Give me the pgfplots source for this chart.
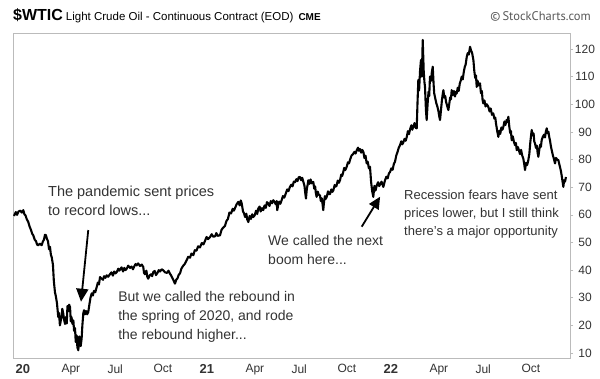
\documentclass[border=0pt]{standalone}
\usepackage{pgfplots}
\pgfplotsset{compat=1.18}
\usepackage{fontspec}
\setmainfont{Liberation Sans}
\newfontfamily\scfont{PT Sans}
\usetikzlibrary{arrows.meta}
\definecolor{txt}{HTML}{333333}
\definecolor{frame}{HTML}{BBBBBB}
\begin{document}
\begin{tikzpicture}
\path[fill=white] (0pt,0pt) rectangle (600pt,377pt);
\begin{axis}[
  at={(13pt,19pt)}, anchor=south west,
  scale only axis, width=557pt, height=325pt,
  xmin=0, xmax=3.027, ymin=8.2, ymax=125.79,
  axis line style={draw=frame, line width=0.8pt},
  ytick={10,20,...,120},
  yticklabel pos=right, ytick pos=right,
  tick align=outside, major tick length=3pt,
  ytick style={draw=frame, line width=0.6pt},
  xtick style={draw=none},
  xtick={0,0.25,0.5,0.75,1,1.25,1.5,1.75,2,2.25,2.5,2.75},
  xticklabels={{\fontsize{13}{13}\selectfont\textbf{20}},Apr,Jul,Oct,{\fontsize{13}{13}\selectfont\textbf{21}},Apr,Jul,Oct,{\fontsize{13}{13}\selectfont\textbf{22}},Apr,Jul,Oct},
  xticklabel style={anchor=north west, xshift=-1pt, font=\fontsize{12}{12}\selectfont, text=txt},
  yticklabel style={anchor=center, xshift=12pt, font=\fontsize{12}{12}\selectfont, text=txt},
  /pgf/number format/assume math mode=true,
  clip=false,
]
\addplot[black, line width=2.1pt, line join=round] table {
t v
0.0054 59.6
0.015 61.0
0.022 60.0
0.030 61.2
0.040 61.5
0.048 60.8
0.056 61.7
0.062 60.2
0.068 59.8
0.075 58.4
0.083 57.4
0.090 55.8
0.098 54.5
0.104 53.2
0.110 52.6
0.118 51.0
0.125 50.5
0.131 49.2
0.1375 49
0.146 49.6
0.156 49
0.162 50.3
0.168 51
0.174 52.8
0.179 52.6
0.185 51.2
0.190 50.5
0.196 47.5
0.201 48.4
0.206 45.5
0.210 44.8
0.217 42
0.222 36
0.228 32
0.233 30.5
0.239 28
0.246 23
0.250 24.5
0.255 20
0.259 21.5
0.264 23
0.268 26
0.273 24.3
0.278 22
0.283 20.5
0.287 23
0.292 20.7
0.296 27
0.299 25
0.305 27.5
0.310 26.6
0.314 21.5
0.318 23
0.323 20.5
0.328 21.8
0.332 18
0.337 19
0.341 14
0.346 16.4
0.350 12
0.355 11
0.360 16
0.364 13.5
0.368 12.5
0.373 15.3
0.377 20
0.382 24.3
0.386 25.5
0.391 24
0.397 25.2
0.403 24
0.409 24.8
0.415 27.5
0.421 30
0.428 31.6
0.434 30.8
0.440 32.5
0.447 32
0.455 33.9
0.461 35.5
0.467 34.8
0.473 37.5
0.480 37
0.489 36.5
0.495 37.8
0.502 37.2
0.509 38.1
0.517 37.6
0.527 38.5
0.535 39.2
0.543 38
0.550 39.5
0.557 38.8
0.564 39.3
0.572 40.5
0.578 39.8
0.582 40.2
0.590 41
0.598 39.5
0.605 40.8
0.611 40
0.618 40.5
0.626 41.6
0.636 40.8
0.644 41.3
0.652 40.3
0.660 41.5
0.666 42.2
0.672 41.7
0.680 42.4
0.690 41.5
0.700 42
0.708 41.1
0.712 39
0.717 38.5
0.725 39.8
0.730 37.5
0.735 36.9
0.742 38
0.750 38.5
0.756 37.8
0.7625 39.3
0.770 39.7
0.777 38.2
0.785 39
0.792 40
0.799 39.5
0.808 40.3
0.817 39.9
0.826 39.2
0.837 39
0.845 39.8
0.853 38.7
0.860 38
0.867 37
0.873 36.2
0.880 35.1
0.887 36.5
0.894 37
0.900 38.2
0.908 38.9
0.915 40.5
0.924 41.5
0.933 42.2
0.944 43.6
0.952 44.8
0.962 44.5
0.970 46
0.980 45.4
0.988 47.2
0.997 47
1.006 48.6
1.016 48.2
1.026 49.8
1.035 49.3
1.043 50.5
1.052 52
1.060 51.2
1.071 52
1.080 53
1.088 52.1
1.098 52.2
1.105 53.4
1.112 52.4
1.125 52.6
1.133 54.5
1.140 55.2
1.152 56
1.160 57.8
1.168 58.5
1.176 60.8
1.185 60.5
1.194 62.2
1.200 61.5
1.207 62.5
1.215 63.8
1.2245 64.7
1.232 63.4
1.238 65.2
1.243 64.1
1.250 61.2
1.256 60.5
1.261 59.2
1.268 60.4
1.273 58.3
1.279 57.4
1.286 59.6
1.293 58.5
1.300 60.2
1.306 59.2
1.313 59.8
1.321 61.5
1.327 60.3
1.333 62.3
1.340 63
1.346 61.2
1.353 62.4
1.360 61.7
1.367 63.4
1.374 62.5
1.380 64.6
1.3875 64.1
1.394 63.2
1.401 65
1.408 64.2
1.4147 65.3
1.422 64.6
1.428 63.8
1.433 65
1.436 61.7
1.441 63.5
1.447 64.8
1.453 64
1.460 65.3
1.467 66.8
1.474 66.2
1.484 68
1.490 69.2
1.497 68.6
1.505 70.1
1.512 70.9
1.519 70.3
1.526 72
1.533 71.8
1.540 72.9
1.546 72.2
1.553 73.6
1.560 73.7
1.566 72.5
1.572 73.4
1.578 71.9
1.584 70.5
1.588 68
1.592 65.9
1.597 69.5
1.601 70.8
1.605 72.5
1.611 71.2
1.617 72.8
1.624 71.4
1.632 71.9
1.637 69.5
1.642 70.3
1.646 67.8
1.650 66.5
1.656 68.4
1.662 67.2
1.668 67.1
1.673 65
1.678 66
1.682 64
1.686 61.7
1.690 64.5
1.695 66.8
1.700 65.8
1.705 66.5
1.712 68.5
1.717 67.5
1.723 67.5
1.730 69.2
1.736 68.3
1.741 68.9
1.748 70.8
1.753 70.2
1.758 70.5
1.765 72.4
1.771 71.6
1.777 72.5
1.784 74.6
1.789 74.1
1.793 75
1.800 77
1.806 76.2
1.8136 77.4
1.820 79
1.826 78.6
1.832 80
1.840 81.5
1.848 82
1.856 82.8
1.862 82.2
1.868 83.4
1.875 84.3
1.880 83.2
1.886 83.8
1.892 82.5
1.898 83.5
1.904 82.8
1.910 80.5
1.916 81.4
1.922 78.6
1.928 79.2
1.934 76.8
1.940 77.4
1.946 72
1.952 68.5
1.958 66.5
1.964 70.5
1.970 68.8
1.977 70.7
1.984 71.8
1.990 70.4
1.995 71
2.003 72
2.0125 70.1
2.0217 72.5
2.029 73.8
2.036 73.2
2.043 75
2.049 75.5
2.056 76.8
2.063 76.3
2.070 78.5
2.076 79.2
2.083 81.5
2.090 82.8
2.096 84.2
2.103 85.2
2.110 86.6
2.115 85.5
2.120 86
2.128 87.5
2.134 86.8
2.140 88.2
2.146 90.3
2.152 89.2
2.158 91
2.165 92.4
2.170 90.8
2.1755 91.9
2.182 93.2
2.188 91.5
2.194 91.3
2.198 100
2.2027 108.8
2.207 105
2.212 112
2.217 116
2.222 110
2.2266 123.3
2.232 112
2.236 108
2.239 106.3
2.244 98
2.248 94.3
2.253 100
2.258 104.5
2.262 103
2.266 110
2.272 108.5
2.276 111.5
2.281 113.6
2.286 107
2.289 104
2.293 102.7
2.300 100.5
2.307 99
2.312 97.5
2.316 95.8
2.3207 94.3
2.326 98
2.331 101.5
2.335 103.5
2.339 105.1
2.344 102.4
2.349 103
2.353 101
2.359 99.5
2.366 97.9
2.371 100.2
2.376 102.5
2.380 101.8
2.384 105.1
2.390 103.3
2.396 104.8
2.402 102.8
2.406 104.5
2.411 103.9
2.417 106
2.422 104.8
2.428 107.5
2.433 108.5
2.4386 110
2.444 109
2.450 111.8
2.455 113.5
2.460 114.4
2.466 117.2
2.471 118.5
2.477 118
2.484 120.8
2.489 119.5
2.495 118.6
2.502 116
2.507 112
2.512 109.5
2.516 110.4
2.520 106.3
2.525 108.5
2.530 106.8
2.538 107.6
2.543 104
2.548 104.8
2.552 101.5
2.556 100.3
2.562 101.4
2.568 99.2
2.575 100
2.583 99.1
2.590 97.4
2.596 98.5
2.603 96.2
2.610 96.7
2.616 94.8
2.621 95.2
2.625 93
2.631 90.5
2.6375 88.2
2.643 90.4
2.648 89.3
2.654 91.6
2.660 90.8
2.665 91.9
2.671 93.8
2.676 92.5
2.683 94.4
2.688 93.6
2.692 95.5
2.697 92
2.702 89.6
2.706 90.3
2.710 87
2.716 88.4
2.722 86.5
2.728 85.2
2.733 86
2.7375 83.4
2.744 84.5
2.750 83.2
2.755 82
2.761 83.5
2.767 81.5
2.773 80.4
2.778 78.5
2.7826 76.2
2.788 78.8
2.794 78
2.8005 79.8
2.806 82
2.811 86
2.815 88.5
2.819 90.7
2.824 88.8
2.829 89.5
2.833 86.5
2.837 85.8
2.842 84.2
2.847 85
2.851 82.5
2.855 81
2.860 83.5
2.865 85.4
2.869 84.6
2.873 87
2.879 88.2
2.886 89
2.891 88
2.896 90.2
2.9005 91.3
2.905 89.5
2.910 90
2.914 88.2
2.918 87
2.924 84.5
2.929 83
2.934 81.5
2.939 80.4
2.9457 78.6
2.951 80.6
2.957 80
2.9636 79.8
2.970 78
2.9766 76.2
2.981 74.5
2.986 72.3
2.9908 70.1
2.995 72.5
3.000 72
3.005 73.7
};
\node[anchor=west, align=left, inner sep=0, text=txt, font=\fontsize{14.5}{19.5}\selectfont] at (axis cs:0.190,65.0) {The pandemic sent prices\\to record lows...};
\node[anchor=west, align=left, inner sep=0, text=txt, font=\fontsize{14}{19}\selectfont] at (axis cs:0.571,23.0) {But we called the rebound in\\the spring of 2020, and rode\\the rebound higher...};
\node[anchor=west, align=left, inner sep=0, text=txt, font=\fontsize{14}{19}\selectfont] at (axis cs:1.386,47.45) {We called the next\\boom here...};
\node[anchor=west, align=left, inner sep=0, text=txt, font=\fontsize{13}{18}\selectfont] at (axis cs:2.125,60.3) {Recession fears have sent\\prices lower, but I still think\\there's a major opportunity};
\draw[black, line width=1.8pt, -{Triangle[width=12pt,length=13pt]}] (axis cs:0.409,54.5) -- (axis cs:0.3696,28.56);
\draw[black, line width=1.8pt, -{Triangle[width=11pt,length=12pt]}] (axis cs:1.895,55.7) -- (axis cs:1.995,66.55);
\end{axis}
\node[anchor=base west, inner sep=0, text=black] at (13pt,356pt) {\fontsize{16}{16}\selectfont\bfseries \$WTIC\kern3pt\fontsize{11.5}{11.5}\selectfont\mdseries Light Crude Oil - Continuous Contract (EOD)\kern5pt\fontsize{10}{10}\selectfont\bfseries CME};
\node[anchor=base east, inner sep=0, text=black!65] at (591pt,356pt) {\scfont\fontsize{12.5}{12.5}\selectfont\copyright\,StockCharts.com};
\end{tikzpicture}
\end{document}
